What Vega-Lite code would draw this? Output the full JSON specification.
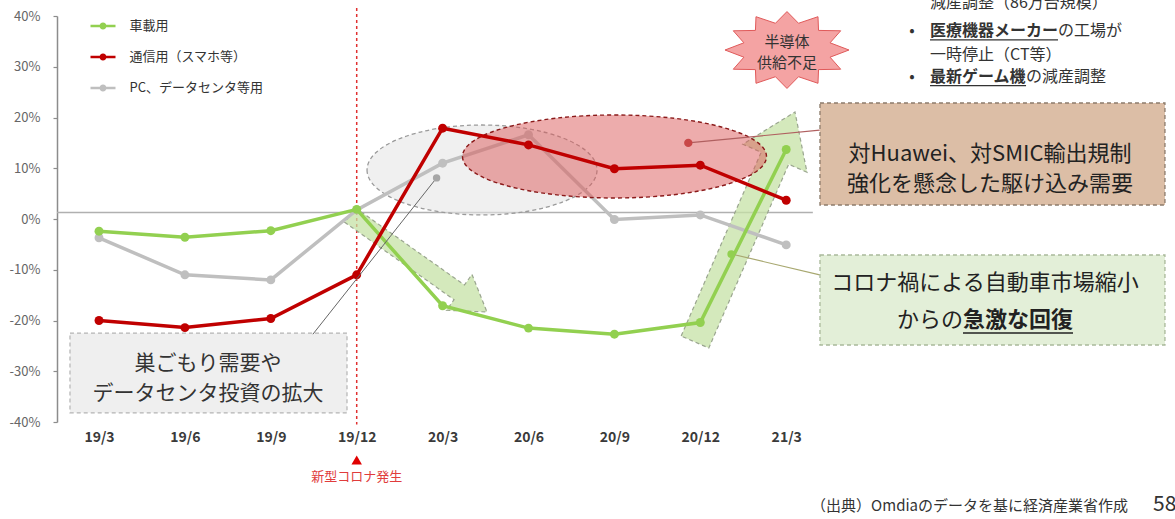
{
  "$schema": "https://vega.github.io/schema/vega-lite/v6.json",
  "width": 1118,
  "height": 406,
  "autosize": {"type": "none"},
  "padding": {"left": 57, "top": 16, "right": 0, "bottom": 97},
  "background": "white",
  "config": {"view": {"stroke": null}, "font": "Noto Sans CJK JP", "text": {"font": "Noto Sans CJK JP"}},
  "layer": [
    {
      "data": {"values": [{}]},
      "mark": {"type": "rule", "color": "#b0b0b0", "strokeWidth": 1.5},
      "encoding": {"x": {"datum": -0.489, "type": "quantitative"}, "x2": {"datum": 8.31}, "y": {"datum": 1.3, "type": "quantitative"}}
    },
    {
      "data": {"values": [{}]},
      "mark": {"type": "rule", "color": "#e03030", "strokeWidth": 1.5, "strokeDash": [3, 3]},
      "encoding": {"x": {"datum": 3, "type": "quantitative"}, "y": {"datum": 41.6, "type": "quantitative"}, "y2": {"datum": -40.5}}
    },
    {
      "data": {"values": [{}]},
      "mark": {"type": "point", "shape": "M-1,0A1,0.391 0 1,0 1,0A1,0.391 0 1,0 -1,0Z", "size": 52900, "filled": true, "fill": "#e6e6e6", "fillOpacity": 0.6, "stroke": "#9a9a9a", "strokeWidth": 1.3, "strokeDash": [4, 3], "opacity": 1},
      "encoding": {"x": {"datum": 4.459, "type": "quantitative"}, "y": {"datum": 9.66, "type": "quantitative"}}
    },
    {
      "data": {"values": [{}]},
      "mark": {"type": "point", "shape": "M-0.633,-0.558L0.46,0.215L0.535,0.109L0.685,0.485L0.281,0.468L0.356,0.362L-0.737,-0.412Z", "size": 40000, "filled": true, "fill": "#c6e2a6", "fillOpacity": 0.75, "stroke": "#9aa58f", "strokeWidth": 1.2, "strokeDash": [4, 3], "opacity": 1},
      "encoding": {"x": {"datum": 3.719, "type": "quantitative"}, "y": {"datum": -8.77, "type": "quantitative"}}
    },
    {
      "data": {"values": [{}]},
      "mark": {"type": "point", "shape": "M-0.638,1.09L0.162,-0.748L-0.022,-0.828L0.5,-1.15L0.62,-0.548L0.437,-0.628L-0.362,1.21Z", "size": 40000, "filled": true, "fill": "#c6e2a6", "fillOpacity": 0.75, "stroke": "#9aa58f", "strokeWidth": 1.2, "strokeDash": [4, 3], "opacity": 1},
      "encoding": {"x": {"datum": 7.52, "type": "quantitative"}, "y": {"datum": -1.58, "type": "quantitative"}}
    },
    {
      "data": {"values": [{}]},
      "mark": {"type": "rect", "fill": "#efefef", "stroke": "#b4b4b4", "strokeWidth": 1.2, "strokeDash": [4, 3]},
      "encoding": {"x": {"datum": -0.338, "type": "quantitative"}, "x2": {"datum": 2.887}, "y": {"datum": -22.5, "type": "quantitative"}, "y2": {"datum": -38.2}}
    },
    {
      "data": {"values": [{}]},
      "mark": {"type": "text", "text": "巣ごもり需要や\nデータセンタ投資の拡大", "lineBreak": "\n", "lineHeight": 30, "fontSize": 21, "color": "#333333", "align": "center", "baseline": "middle"},
      "encoding": {"x": {"datum": 1.27, "type": "quantitative"}, "y": {"datum": -28.6, "type": "quantitative"}}
    },
    {
      "data": {"values": [
        {"period": "19/3", "i": 0, "series": "PC、データセンタ等用", "value": -3.7},
        {"period": "19/6", "i": 1, "series": "PC、データセンタ等用", "value": -11.0},
        {"period": "19/9", "i": 2, "series": "PC、データセンタ等用", "value": -12.0},
        {"period": "19/12", "i": 3, "series": "PC、データセンタ等用", "value": 1.8},
        {"period": "20/3", "i": 4, "series": "PC、データセンタ等用", "value": 11.0},
        {"period": "20/6", "i": 5, "series": "PC、データセンタ等用", "value": 16.6},
        {"period": "20/9", "i": 6, "series": "PC、データセンタ等用", "value": -0.1},
        {"period": "20/12", "i": 7, "series": "PC、データセンタ等用", "value": 0.8},
        {"period": "21/3", "i": 8, "series": "PC、データセンタ等用", "value": -5.1}
      ]},
      "mark": {"type": "line", "strokeWidth": 3.5, "point": {"filled": true, "size": 80}},
      "encoding": {
        "x": {"field": "i", "type": "quantitative", "title": null, "scale": {"domain": [-0.489, 12.526], "nice": false, "zero": false},
              "axis": {"values": [0, 1, 2, 3, 4, 5, 6, 7, 8], "labelExpr": "['19/3','19/6','19/9','19/12','20/3','20/6','20/9','20/12','21/3'][datum.value]", "domain": false, "ticks": false, "grid": false, "labelPadding": 8, "labelFontSize": 14, "labelColor": "#3a3a3a", "labelFont": "Noto Sans CJK JP", "labelFontWeight": "bold", "title": null}},
        "y": {"field": "value", "type": "quantitative", "title": null, "scale": {"domain": [-40, 40], "nice": false, "zero": false},
              "axis": {"values": [-40, -30, -20, -10, 0, 10, 20, 30, 40], "labelExpr": "datum.value + '%'", "domainColor": "#8c8c8c", "domainWidth": 1.5, "tickColor": "#8c8c8c", "tickSize": 4, "tickWidth": 1.2, "grid": false, "labelPadding": 13, "labelFontSize": 13, "labelColor": "#666666", "labelFont": "Noto Sans CJK JP", "title": null}},
        "color": {"field": "series", "type": "nominal",
                  "scale": {"domain": ["車載用", "通信用（スマホ等）", "PC、データセンタ等用"], "range": ["#92d050", "#c00000", "#bfbfbf"]},
                  "legend": {"orient": "none", "legendX": 33.5, "legendY": -2.5, "title": null, "symbolType": "M-1,-0.1H1V0.1H-1Z M0.28,0A0.28,0.28 0 1,1 -0.28,0A0.28,0.28 0 1,1 0.28,0Z", "symbolSize": 625, "symbolStrokeWidth": 0, "labelFontSize": 13, "labelColor": "#333333", "labelFont": "Noto Sans CJK JP", "labelOffset": 14, "rowPadding": 11, "padding": 0,
                             "encode": {"symbols": {"update": {"fill": {"scale": "color", "field": "value"}, "stroke": {"value": "transparent"}, "opacity": {"value": 1}}}}}}
      }
    },
    {
      "data": {"values": [{}]},
      "mark": {"type": "point", "shape": "M-1,0A1,0.273 0 1,0 1,0A1,0.273 0 1,0 -1,0Z", "size": 92416, "filled": true, "fill": "#dc5a5a", "fillOpacity": 0.5, "stroke": "#8b1a1a", "strokeWidth": 1.4, "strokeDash": [4, 3], "opacity": 1},
      "encoding": {"x": {"datum": 6.001, "type": "quantitative"}, "y": {"datum": 12.32, "type": "quantitative"}}
    },
    {
      "data": {"values": [
        {"period": "19/3", "i": 0, "series": "車載用", "value": -2.4},
        {"period": "19/6", "i": 1, "series": "車載用", "value": -3.6},
        {"period": "19/9", "i": 2, "series": "車載用", "value": -2.3},
        {"period": "19/12", "i": 3, "series": "車載用", "value": 1.9},
        {"period": "20/3", "i": 4, "series": "車載用", "value": -17.1},
        {"period": "20/6", "i": 5, "series": "車載用", "value": -21.5},
        {"period": "20/9", "i": 6, "series": "車載用", "value": -22.7},
        {"period": "20/12", "i": 7, "series": "車載用", "value": -20.4},
        {"period": "21/3", "i": 8, "series": "車載用", "value": 13.7}
      ]},
      "mark": {"type": "line", "strokeWidth": 3.5, "point": {"filled": true, "size": 80}},
      "encoding": {
        "x": {"field": "i", "type": "quantitative", "title": null},
        "y": {"field": "value", "type": "quantitative", "title": null},
        "color": {"field": "series", "type": "nominal",
                  "scale": {"domain": ["車載用", "通信用（スマホ等）", "PC、データセンタ等用"], "range": ["#92d050", "#c00000", "#bfbfbf"]},
                  "legend": {"orient": "none", "legendX": 33.5, "legendY": -2.5, "title": null, "symbolType": "M-1,-0.1H1V0.1H-1Z M0.28,0A0.28,0.28 0 1,1 -0.28,0A0.28,0.28 0 1,1 0.28,0Z", "symbolSize": 625, "symbolStrokeWidth": 0, "labelFontSize": 13, "labelColor": "#333333", "labelFont": "Noto Sans CJK JP", "labelOffset": 14, "rowPadding": 11, "padding": 0,
                             "encode": {"symbols": {"update": {"fill": {"scale": "color", "field": "value"}, "stroke": {"value": "transparent"}, "opacity": {"value": 1}}}}}}
      }
    },
    {
      "data": {"values": [
        {"period": "19/3", "i": 0, "series": "通信用（スマホ等）", "value": -20.0},
        {"period": "19/6", "i": 1, "series": "通信用（スマホ等）", "value": -21.4},
        {"period": "19/9", "i": 2, "series": "通信用（スマホ等）", "value": -19.6},
        {"period": "19/12", "i": 3, "series": "通信用（スマホ等）", "value": -11.0},
        {"period": "20/3", "i": 4, "series": "通信用（スマホ等）", "value": 17.9},
        {"period": "20/6", "i": 5, "series": "通信用（スマホ等）", "value": 14.6},
        {"period": "20/9", "i": 6, "series": "通信用（スマホ等）", "value": 9.9},
        {"period": "20/12", "i": 7, "series": "通信用（スマホ等）", "value": 10.6},
        {"period": "21/3", "i": 8, "series": "通信用（スマホ等）", "value": 3.7}
      ]},
      "mark": {"type": "line", "strokeWidth": 3.5, "point": {"filled": true, "size": 80}},
      "encoding": {
        "x": {"field": "i", "type": "quantitative", "title": null},
        "y": {"field": "value", "type": "quantitative", "title": null},
        "color": {"field": "series", "type": "nominal",
                  "scale": {"domain": ["車載用", "通信用（スマホ等）", "PC、データセンタ等用"], "range": ["#92d050", "#c00000", "#bfbfbf"]},
                  "legend": {"orient": "none", "legendX": 33.5, "legendY": -2.5, "title": null, "symbolType": "M-1,-0.1H1V0.1H-1Z M0.28,0A0.28,0.28 0 1,1 -0.28,0A0.28,0.28 0 1,1 0.28,0Z", "symbolSize": 625, "symbolStrokeWidth": 0, "labelFontSize": 13, "labelColor": "#333333", "labelFont": "Noto Sans CJK JP", "labelOffset": 14, "rowPadding": 11, "padding": 0,
                             "encode": {"symbols": {"update": {"fill": {"scale": "color", "field": "value"}, "stroke": {"value": "transparent"}, "opacity": {"value": 1}}}}}}
      }
    },
    {
      "data": {"values": [{}]},
      "mark": {"type": "rule", "color": "#666666", "strokeWidth": 1},
      "encoding": {"x": {"datum": 2.49, "type": "quantitative"}, "y": {"datum": -22.7, "type": "quantitative"}, "x2": {"datum": 3.93}, "y2": {"datum": 8.1}}
    },
    {
      "data": {"values": [{}]},
      "mark": {"type": "point", "filled": true, "size": 55, "color": "#a6a6a6", "opacity": 1},
      "encoding": {"x": {"datum": 3.93, "type": "quantitative"}, "y": {"datum": 8.1, "type": "quantitative"}}
    },
    {
      "data": {"values": [{}]},
      "mark": {"type": "rule", "color": "#b06060", "strokeWidth": 1.2},
      "encoding": {"x": {"datum": 6.86, "type": "quantitative"}, "y": {"datum": 15.0, "type": "quantitative"}, "x2": {"datum": 8.39}, "y2": {"datum": 17.5}}
    },
    {
      "data": {"values": [{}]},
      "mark": {"type": "point", "filled": true, "size": 70, "color": "#c84848", "opacity": 1},
      "encoding": {"x": {"datum": 6.86, "type": "quantitative"}, "y": {"datum": 15.0, "type": "quantitative"}}
    },
    {
      "data": {"values": [{}]},
      "mark": {"type": "rule", "color": "#a8a870", "strokeWidth": 1.2},
      "encoding": {"x": {"datum": 7.36, "type": "quantitative"}, "y": {"datum": -6.9, "type": "quantitative"}, "x2": {"datum": 8.39}, "y2": {"datum": -11.0}}
    },
    {
      "data": {"values": [{}]},
      "mark": {"type": "point", "filled": true, "size": 60, "color": "#92d050", "opacity": 1},
      "encoding": {"x": {"datum": 7.36, "type": "quantitative"}, "y": {"datum": -6.9, "type": "quantitative"}}
    },
    {
      "data": {"values": [{}]},
      "mark": {"type": "rect", "fill": "#dcbea6", "stroke": "#8c7b6b", "strokeWidth": 1.3, "strokeDash": [4, 3]},
      "encoding": {"x": {"datum": 8.393, "type": "quantitative"}, "x2": {"datum": 12.409}, "y": {"datum": 22.86, "type": "quantitative"}, "y2": {"datum": 2.76}}
    },
    {
      "data": {"values": [{}]},
      "mark": {"type": "text", "text": "対Huawei、対SMIC輸出規制\n強化を懸念した駆け込み需要", "lineBreak": "\n", "lineHeight": 30, "fontSize": 22, "color": "#222222", "align": "center", "baseline": "middle"},
      "encoding": {"x": {"datum": 10.373, "type": "quantitative"}, "y": {"datum": 12.8, "type": "quantitative"}}
    },
    {
      "data": {"values": [{}]},
      "mark": {"type": "rect", "fill": "#e3efd8", "stroke": "#a9b99a", "strokeWidth": 1.3, "strokeDash": [4, 3]},
      "encoding": {"x": {"datum": 8.393, "type": "quantitative"}, "x2": {"datum": 12.409}, "y": {"datum": -7.09, "type": "quantitative"}, "y2": {"datum": -24.83}}
    },
    {
      "data": {"values": [{}]},
      "mark": {"type": "text", "text": "コロナ禍による自動車市場縮小", "fontSize": 22, "color": "#222222", "align": "center", "baseline": "middle"},
      "encoding": {"x": {"datum": 10.314, "type": "quantitative"}, "y": {"datum": -12.61, "type": "quantitative"}}
    },
    {
      "data": {"values": [{}]},
      "mark": {"type": "text", "text": "からの", "fontSize": 22, "color": "#222222", "align": "right", "baseline": "middle"},
      "encoding": {"x": {"datum": 10.058, "type": "quantitative"}, "y": {"datum": -19.9, "type": "quantitative"}}
    },
    {
      "data": {"values": [{}]},
      "mark": {"type": "text", "text": "急激な回復", "fontSize": 22, "fontWeight": "bold", "color": "#222222", "align": "left", "baseline": "middle"},
      "encoding": {"x": {"datum": 10.058, "type": "quantitative"}, "y": {"datum": -19.9, "type": "quantitative"}}
    },
    {
      "data": {"values": [{}]},
      "mark": {"type": "rule", "color": "#222222", "strokeWidth": 1.5},
      "encoding": {"x": {"datum": 10.058, "type": "quantitative"}, "x2": {"datum": 11.339}, "y": {"datum": -22.46, "type": "quantitative"}}
    },
    {
      "data": {"values": [{}]},
      "mark": {"type": "point", "shape": "M1,0L0.695,0.116L0.866,0.31L0.509,0.316L0.5,0.537L0.186,0.431L0,0.62L-0.186,0.431L-0.5,0.537L-0.509,0.316L-0.866,0.31L-0.695,0.116L-1,0L-0.695,-0.116L-0.866,-0.31L-0.509,-0.316L-0.5,-0.537L-0.186,-0.431L0,-0.62L0.186,-0.431L0.5,-0.537L0.509,-0.316L0.866,-0.31L0.695,-0.116Z", "size": 15376, "filled": true, "fill": "#f4a3a3", "stroke": "#e05a5a", "strokeWidth": 1, "opacity": 1},
      "encoding": {"x": {"datum": 8.009, "type": "quantitative"}, "y": {"datum": 33.3, "type": "quantitative"}}
    },
    {
      "data": {"values": [{}]},
      "mark": {"type": "text", "text": "半導体", "fontSize": 15, "color": "#333333", "align": "center", "baseline": "middle"},
      "encoding": {"x": {"datum": 8.009, "type": "quantitative"}, "y": {"datum": 34.9, "type": "quantitative"}}
    },
    {
      "data": {"values": [{}]},
      "mark": {"type": "text", "text": "供給不足", "fontSize": 15, "color": "#333333", "align": "center", "baseline": "middle"},
      "encoding": {"x": {"datum": 8.009, "type": "quantitative"}, "y": {"datum": 30.8, "type": "quantitative"}}
    },
    {
      "data": {"values": [{}]},
      "mark": {"type": "text", "text": "減産調整（86万台規模）", "fontSize": 16, "color": "#333333", "align": "left", "baseline": "middle"},
      "encoding": {"x": {"datum": 9.674, "type": "quantitative"}, "y": {"datum": 42.56, "type": "quantitative"}}
    },
    {
      "data": {"values": [{}]},
      "mark": {"type": "text", "text": "•", "fontSize": 16, "color": "#333333", "align": "center", "baseline": "middle"},
      "encoding": {"x": {"datum": 9.465, "type": "quantitative"}, "y": {"datum": 37.04, "type": "quantitative"}}
    },
    {
      "data": {"values": [{}]},
      "mark": {"type": "text", "text": "医療機器メーカー", "fontSize": 16, "fontWeight": "bold", "color": "#333333", "align": "left", "baseline": "middle"},
      "encoding": {"x": {"datum": 9.674, "type": "quantitative"}, "y": {"datum": 37.04, "type": "quantitative"}}
    },
    {
      "data": {"values": [{}]},
      "mark": {"type": "text", "text": "の工場が", "fontSize": 16, "color": "#333333", "align": "left", "baseline": "middle"},
      "encoding": {"x": {"datum": 11.164, "type": "quantitative"}, "y": {"datum": 37.04, "type": "quantitative"}}
    },
    {
      "data": {"values": [{}]},
      "mark": {"type": "rule", "color": "#333333", "strokeWidth": 1.3},
      "encoding": {"x": {"datum": 9.674, "type": "quantitative"}, "x2": {"datum": 11.164}, "y": {"datum": 35.3, "type": "quantitative"}}
    },
    {
      "data": {"values": [{}]},
      "mark": {"type": "text", "text": "一時停止（CT等）", "fontSize": 16, "color": "#333333", "align": "left", "baseline": "middle"},
      "encoding": {"x": {"datum": 9.674, "type": "quantitative"}, "y": {"datum": 32.4, "type": "quantitative"}}
    },
    {
      "data": {"values": [{}]},
      "mark": {"type": "text", "text": "•", "fontSize": 16, "color": "#333333", "align": "center", "baseline": "middle"},
      "encoding": {"x": {"datum": 9.465, "type": "quantitative"}, "y": {"datum": 28.0, "type": "quantitative"}}
    },
    {
      "data": {"values": [{}]},
      "mark": {"type": "text", "text": "最新ゲーム機", "fontSize": 16, "fontWeight": "bold", "color": "#333333", "align": "left", "baseline": "middle"},
      "encoding": {"x": {"datum": 9.674, "type": "quantitative"}, "y": {"datum": 28.0, "type": "quantitative"}}
    },
    {
      "data": {"values": [{}]},
      "mark": {"type": "text", "text": "の減産調整", "fontSize": 16, "color": "#333333", "align": "left", "baseline": "middle"},
      "encoding": {"x": {"datum": 10.792, "type": "quantitative"}, "y": {"datum": 28.0, "type": "quantitative"}}
    },
    {
      "data": {"values": [{}]},
      "mark": {"type": "rule", "color": "#333333", "strokeWidth": 1.3},
      "encoding": {"x": {"datum": 9.674, "type": "quantitative"}, "x2": {"datum": 10.792}, "y": {"datum": 26.3, "type": "quantitative"}}
    },
    {
      "data": {"values": [{}]},
      "mark": {"type": "point", "shape": "triangle-up", "filled": true, "size": 110, "color": "#e00000", "opacity": 1},
      "encoding": {"x": {"datum": 3, "type": "quantitative"}, "y": {"datum": -47.5, "type": "quantitative"}}
    },
    {
      "data": {"values": [{}]},
      "mark": {"type": "text", "text": "新型コロナ発生", "fontSize": 13, "color": "#e03c3c", "align": "center", "baseline": "middle"},
      "encoding": {"x": {"datum": 3, "type": "quantitative"}, "y": {"datum": -50.9, "type": "quantitative"}}
    },
    {
      "data": {"values": [{}]},
      "mark": {"type": "text", "text": "（出典）Omdiaのデータを基に経済産業省作成", "fontSize": 15, "color": "#333333", "align": "right", "baseline": "middle"},
      "encoding": {"x": {"datum": 11.979, "type": "quantitative"}, "y": {"datum": -56.5, "type": "quantitative"}}
    },
    {
      "data": {"values": [{}]},
      "mark": {"type": "text", "text": "58", "fontSize": 21, "color": "#333333", "align": "left", "baseline": "middle"},
      "encoding": {"x": {"datum": 12.27, "type": "quantitative"}, "y": {"datum": -56.3, "type": "quantitative"}}
    }
  ]
}
